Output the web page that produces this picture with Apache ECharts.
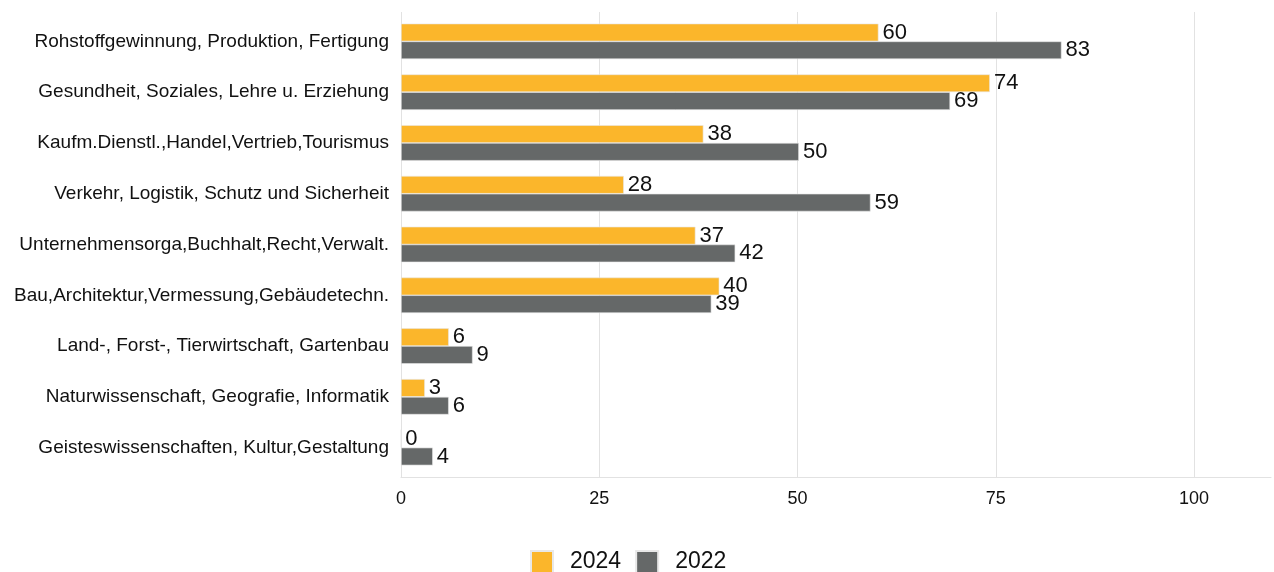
<!DOCTYPE html>
<html>
<head>
<meta charset="utf-8">
<script src="https://cdn.jsdelivr.net/npm/echarts@6/dist/echarts.min.js"></script>
<style>
html,body{margin:0;padding:0;background:#fff;}
#chart{width:1274px;height:572px;}
</style>
</head>
<body>
<div id="chart"></div>
<script>
// Berufsbereiche (top to bottom)
const categories = [
  'Rohstoffgewinnung, Produktion, Fertigung',
  'Gesundheit, Soziales, Lehre u. Erziehung',
  'Kaufm.Dienstl.,Handel,Vertrieb,Tourismus',
  'Verkehr, Logistik, Schutz und Sicherheit',
  'Unternehmensorga,Buchhalt,Recht,Verwalt.',
  'Bau,Architektur,Vermessung,Gebäudetechn.',
  'Land-, Forst-, Tierwirtschaft, Gartenbau',
  'Naturwissenschaft, Geografie, Informatik',
  'Geisteswissenschaften, Kultur,Gestaltung'
];
const values2024 = [60, 74, 38, 28, 37, 40, 6, 3, 0];
const values2022 = [83, 69, 50, 59, 42, 39, 9, 6, 4];
const xTicks = [0, 25, 50, 75, 100];
const xMax = 109.7;

const font = 'Liberation Sans, Arial, sans-serif';
const gridColor = '#e2e2e2';
const chart = echarts.init(document.getElementById('chart'));

function barSeries(name, data, color) {
  return {
    name: name,
    type: 'bar',
    xAxisIndex: 1,
    yAxisIndex: 1,
    data: data,
    barGap: '0%',
    barCategoryGap: '30%',
    itemStyle: { color: color, borderColor: '#e8e8e8', borderWidth: 0.6 },
    label: {
      show: true,
      position: 'right',
      distance: 4,
      color: '#111',
      fontFamily: font,
      fontSize: 22
    }
  };
}

chart.setOption({
  animation: false,
  // grid 0: frame, gridlines and tick labels; grid 1: the bars and category labels
  grid: [
    { left: 401, right: 0, top: 12, bottom: 95 },
    { left: 401, right: 0, top: 16, bottom: 99 }
  ],
  legend: {
    top: 550,
    left: 530,
    padding: 0,
    itemWidth: 22,
    itemHeight: 22,
    itemGap: 14,
    icon: 'rect',
    formatter: n => '{t|' + n + '}',
    textStyle: {
      fontFamily: font,
      fontSize: 23,
      color: '#111',
      rich: { t: { fontFamily: font, fontSize: 23, lineHeight: 22, color: '#111', padding: [0, 0, 0, 12] } }
    },
    data: ['2024', '2022']
  },
  xAxis: [
    {
      type: 'value',
      gridIndex: 0,
      min: 0,
      max: xMax,
      interval: 25,
      axisLine: { show: true, lineStyle: { color: gridColor } },
      axisTick: { show: false },
      splitLine: { showMaxLine: false, lineStyle: { color: gridColor, width: 1 } },
      axisLabel: {
        margin: 13,
        fontFamily: font,
        fontSize: 18,
        color: '#111',
        formatter: v => (xTicks.indexOf(v) >= 0 ? String(v) : '')
      }
    },
    {
      type: 'value',
      gridIndex: 1,
      min: 0,
      max: xMax,
      show: false
    }
  ],
  yAxis: [
    {
      type: 'category',
      gridIndex: 0,
      data: categories,
      inverse: true,
      axisLine: { show: false },
      axisTick: { show: false },
      axisLabel: { show: false },
      splitLine: { show: false }
    },
    {
      type: 'category',
      gridIndex: 1,
      inverse: true,
      data: categories,
      axisLine: { show: false },
      axisTick: { show: false },
      axisLabel: {
        margin: 12,
        fontFamily: font,
        fontSize: 19,
        color: '#111'
      }
    }
  ],
  series: [
    barSeries('2024', values2024, '#fbb62b'),
    barSeries('2022', values2022, '#656868')
  ]
});
</script>
</body>
</html>
